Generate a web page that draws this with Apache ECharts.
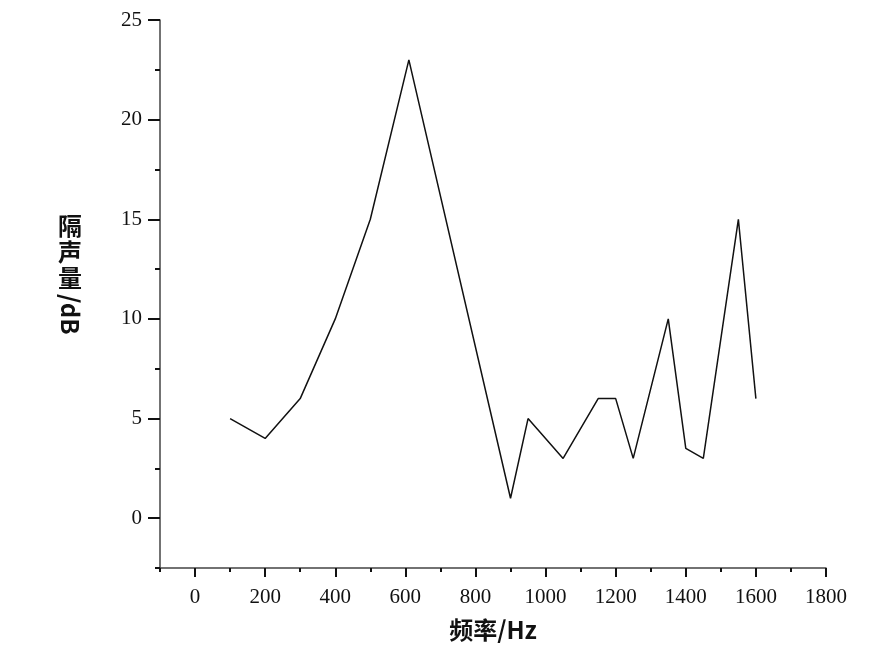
<!DOCTYPE html>
<html>
<head>
<meta charset="utf-8">
<script src="https://cdn.jsdelivr.net/npm/echarts@6/dist/echarts.min.js"></script>
<style>html,body{margin:0;padding:0;background:#fff;}#c{width:892px;height:661px;}</style>
</head>
<body>
<div id="c"></div>
<script>
const frequency = [100, 200, 300, 400, 500, 610, 900, 950, 1050, 1150, 1200, 1250, 1350, 1400, 1450, 1550, 1600];
const soundInsulation = [5, 4, 6, 10, 15, 23, 1, 5, 3, 6, 6, 3, 10, 3.5, 3, 15, 6];
const xMajorTicks = [0, 200, 400, 600, 800, 1000, 1200, 1400, 1600, 1800];
const xMinorTicks = [-100, 100, 300, 500, 700, 900, 1100, 1300, 1500, 1700];
const yMajorTicks = [0, 5, 10, 15, 20, 25];
const yMinorTicks = [-2.5, 2.5, 7.5, 12.5, 17.5, 22.5];

const chart = echarts.init(document.getElementById('c'));
const serif = '"Liberation Serif", "DejaVu Serif", serif';
const cjk = '"Noto Sans CJK SC", "Noto Sans", sans-serif';
const axisCol = '#444';
const plain = v => String(v);

chart.setOption({
  animation: false,
  backgroundColor: '#fff',
  grid: { left: 160, right: 66, top: 20, bottom: 93, containLabel: false },
  xAxis: [{
    type: 'value', min: -100, max: 1800,
    axisLine: { show: true, onZero: false, lineStyle: { color: axisCol, width: 1.5 } },
    axisTick: { show: true, customValues: xMajorTicks, length: 9, lineStyle: { color: '#111', width: 2 } },
    axisLabel: { customValues: xMajorTicks, formatter: plain, fontFamily: serif, fontSize: 21, color: '#111', margin: 19 },
    splitLine: { show: false },
    name: '频率/Hz', nameLocation: 'middle', nameGap: 50,
    nameTextStyle: { fontFamily: cjk, fontSize: 24, fontWeight: 'bold', color: '#111' }
  }, {
    type: 'value', min: -100, max: 1800, position: 'bottom',
    axisLine: { show: false, onZero: false },
    axisTick: { show: true, customValues: xMinorTicks, length: 4, lineStyle: { color: '#111', width: 2 } },
    axisLabel: { show: false },
    splitLine: { show: false }
  }],
  yAxis: [{
    type: 'value', min: -2.5, max: 25,
    axisLine: { show: true, onZero: false, lineStyle: { color: axisCol, width: 1.5 } },
    axisTick: { show: true, customValues: yMajorTicks, length: 12, lineStyle: { color: '#111', width: 2 } },
    axisLabel: { customValues: yMajorTicks, formatter: plain, fontFamily: serif, fontSize: 21, color: '#111', margin: 18 },
    splitLine: { show: false }
  }, {
    type: 'value', min: -2.5, max: 25, position: 'left',
    axisLine: { show: false, onZero: false },
    axisTick: { show: true, customValues: yMinorTicks, length: 5, lineStyle: { color: '#111', width: 2 } },
    axisLabel: { show: false },
    splitLine: { show: false }
  }],
  graphic: [
    { type: 'text', left: 58, top: 213, style: { text: '隔\n声\n量', font: 'bold 24px ' + cjk, lineHeight: 26, fill: '#111' } },
    { type: 'text', x: 82, y: 294, rotation: -Math.PI / 2, style: { text: '/dB', font: 'bold 24px ' + cjk, fill: '#111' } }
  ],
  series: [{
    type: 'line',
    data: frequency.map((f, i) => [f, soundInsulation[i]]),
    showSymbol: false,
    lineStyle: { color: '#111', width: 1.5 },
    silent: true
  }]
});
</script>
</body>
</html>
